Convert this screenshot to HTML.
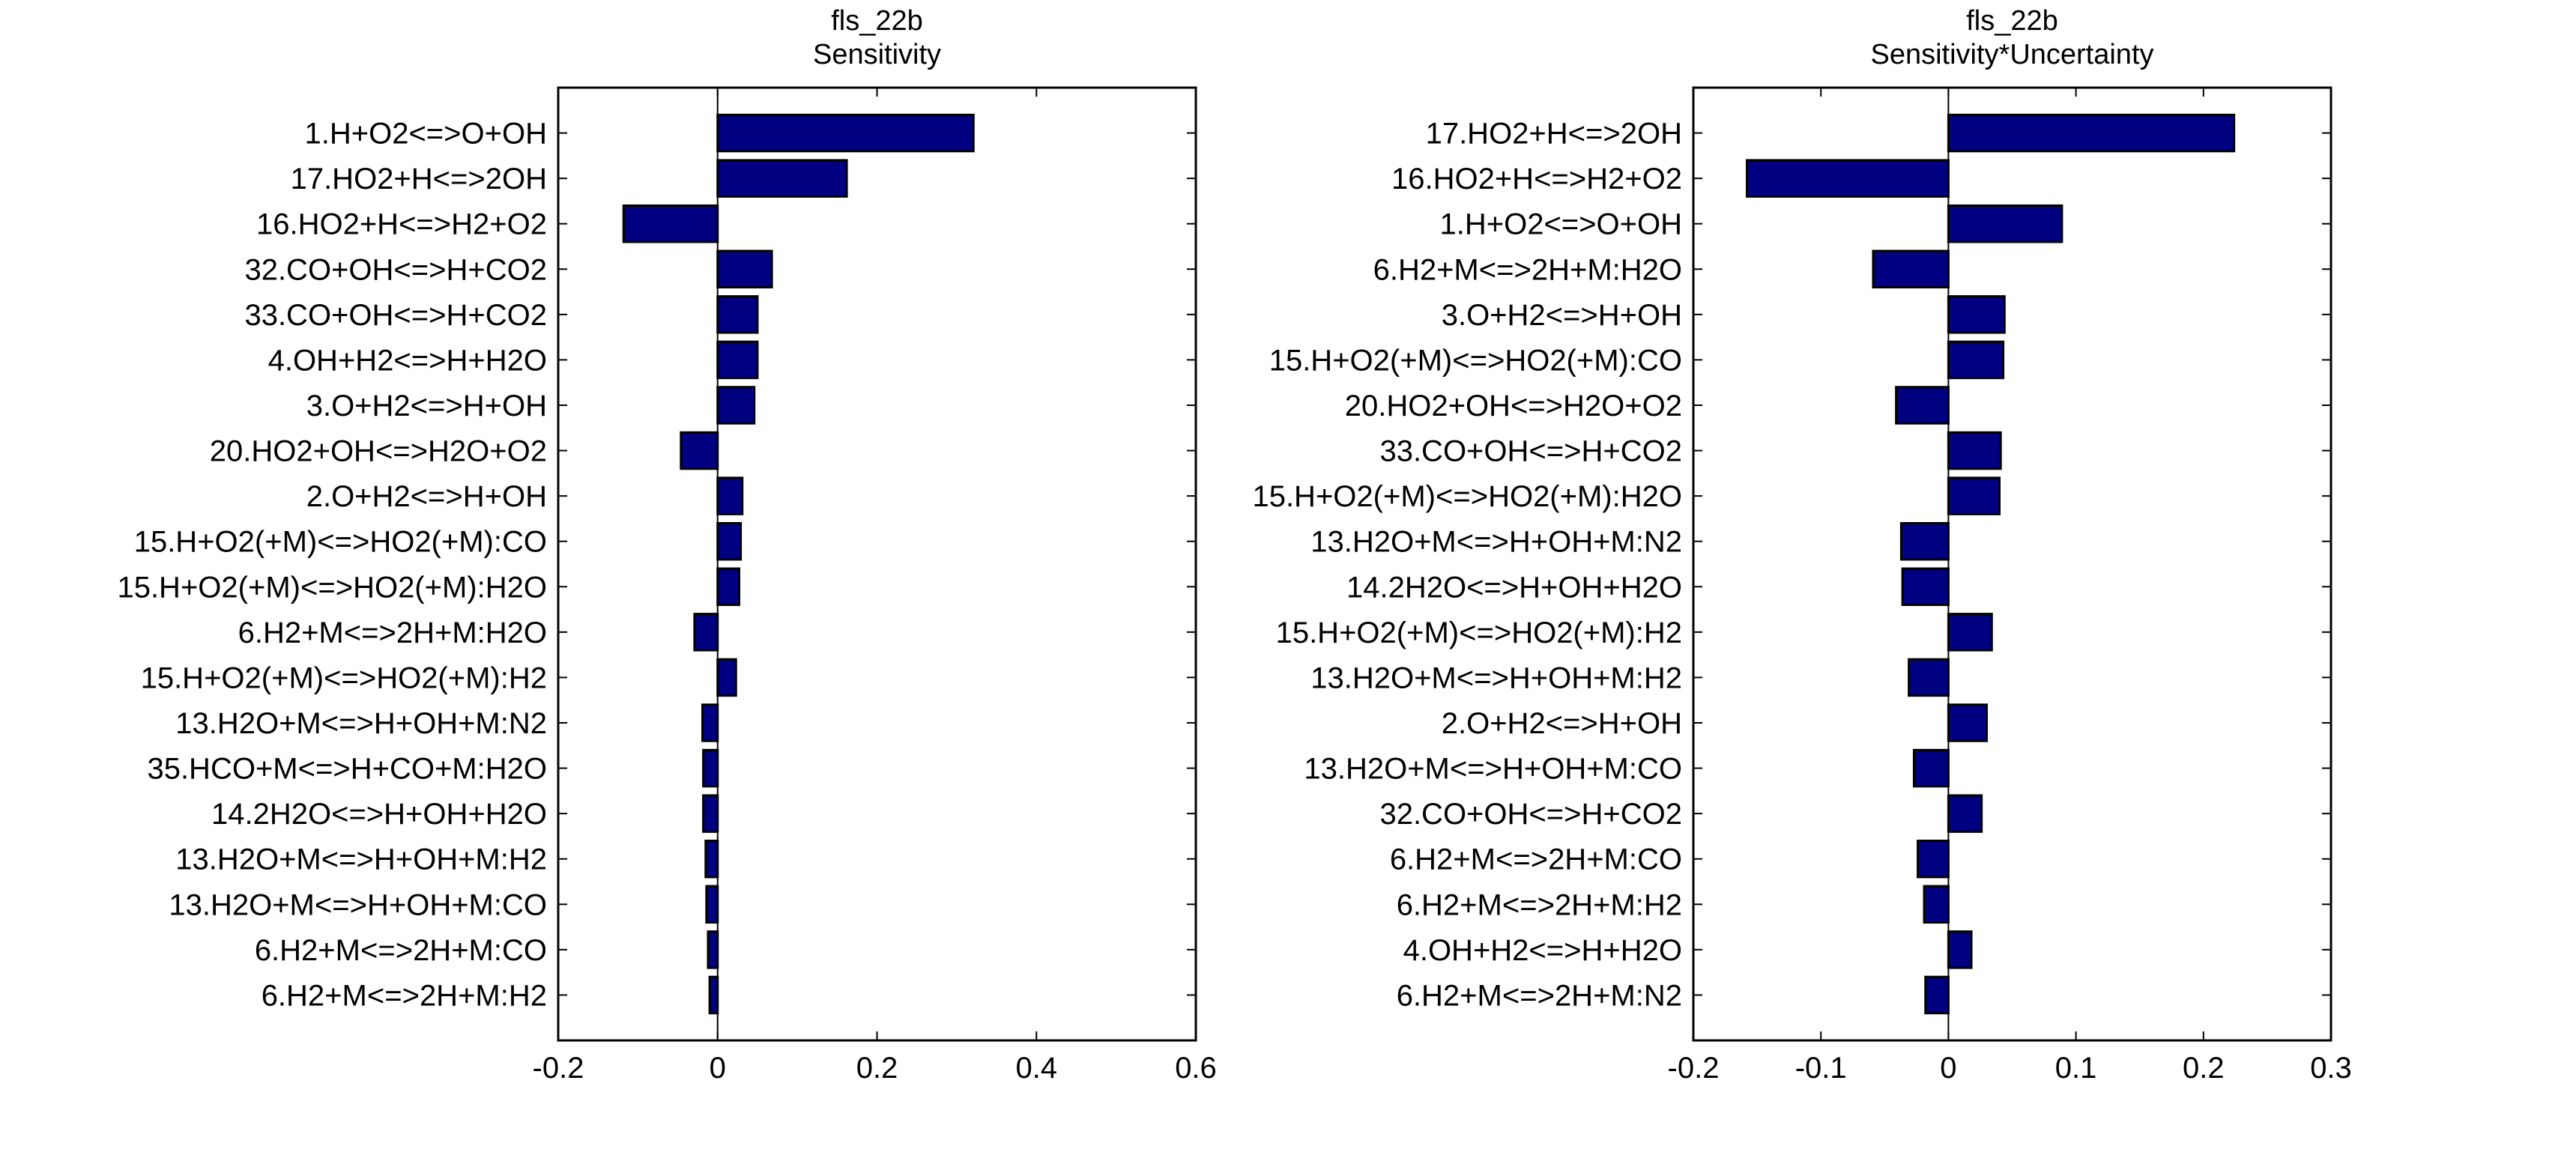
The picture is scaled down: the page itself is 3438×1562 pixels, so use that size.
<!DOCTYPE html>
<html><head><meta charset="utf-8"><style>html,body{margin:0;padding:0;background:#fff}svg{display:block}</style></head>
<body>
<svg id="s" width="3438" height="1562" xmlns="http://www.w3.org/2000/svg" font-family="Liberation Sans, Arial, sans-serif" font-size="40"></svg>
<script>
const svg=document.getElementById('s');
const NS='http://www.w3.org/2000/svg';
function el(t,a,txt){const e=document.createElementNS(NS,t);for(const k in a)e.setAttribute(k,a[k]);if(txt!==undefined)e.textContent=txt;svg.appendChild(e);return e;}
const Y1=117,Y2=1389,H=Y2-Y1,step=H/21;
function plot(x1,x2,xmin,xmax,ticks,labels,vals,t1,t2){
  const W=x2-x1, X=v=>x1+(v-xmin)/(xmax-xmin)*W, x0=X(0);
  el('rect',{x:x1,y:Y1,width:W,height:H,fill:'#fff'});
  vals.forEach((v,i)=>{const yc=Y1+(i+1)*step, bh=step*0.8;
    const a=Math.min(x0,X(v)), b=Math.max(x0,X(v));
    el('rect',{x:a,y:yc-bh/2,width:b-a,height:bh,fill:'#000080',stroke:'#000','stroke-width':3});
    el('line',{x1:x1,y1:yc,x2:x1+12,y2:yc,stroke:'#000','stroke-width':2});
    el('line',{x1:x2,y1:yc,x2:x2-12,y2:yc,stroke:'#000','stroke-width':2});
    el('text',{x:x1-15,y:yc+14,'text-anchor':'end'},labels[i]);
  });
  el('line',{x1:x0,y1:Y1,x2:x0,y2:Y2,stroke:'#000','stroke-width':2});
  ticks.forEach(t=>{const x=X(t);
    el('line',{x1:x,y1:Y2,x2:x,y2:Y2-12,stroke:'#000','stroke-width':2});
    el('line',{x1:x,y1:Y1,x2:x,y2:Y1+12,stroke:'#000','stroke-width':2});
    el('text',{x:x,y:1439,'text-anchor':'middle'},String(t));
  });
  el('rect',{x:x1,y:Y1,width:W,height:H,fill:'none',stroke:'#000','stroke-width':3});
  const cx=(x1+x2)/2;
  el('text',{x:cx,y:40,'text-anchor':'middle','font-size':38},t1);
  el('text',{x:cx,y:85,'text-anchor':'middle','font-size':38},t2);
}
plot(745,1596,-0.2,0.6,[-0.2,0,0.2,0.4,0.6],
["1.H+O2<=>O+OH","17.HO2+H<=>2OH","16.HO2+H<=>H2+O2","32.CO+OH<=>H+CO2","33.CO+OH<=>H+CO2","4.OH+H2<=>H+H2O","3.O+H2<=>H+OH","20.HO2+OH<=>H2O+O2","2.O+H2<=>H+OH","15.H+O2(+M)<=>HO2(+M):CO","15.H+O2(+M)<=>HO2(+M):H2O","6.H2+M<=>2H+M:H2O","15.H+O2(+M)<=>HO2(+M):H2","13.H2O+M<=>H+OH+M:N2","35.HCO+M<=>H+CO+M:H2O","14.2H2O<=>H+OH+H2O","13.H2O+M<=>H+OH+M:H2","13.H2O+M<=>H+OH+M:CO","6.H2+M<=>2H+M:CO","6.H2+M<=>2H+M:H2"],
[0.321,0.162,-0.118,0.068,0.05,0.05,0.046,-0.046,0.031,0.029,0.027,-0.029,0.023,-0.019,-0.018,-0.018,-0.015,-0.014,-0.012,-0.010],
"fls_22b","Sensitivity");
plot(2260,3111,-0.2,0.3,[-0.2,-0.1,0,0.1,0.2,0.3],
["17.HO2+H<=>2OH","16.HO2+H<=>H2+O2","1.H+O2<=>O+OH","6.H2+M<=>2H+M:H2O","3.O+H2<=>H+OH","15.H+O2(+M)<=>HO2(+M):CO","20.HO2+OH<=>H2O+O2","33.CO+OH<=>H+CO2","15.H+O2(+M)<=>HO2(+M):H2O","13.H2O+M<=>H+OH+M:N2","14.2H2O<=>H+OH+H2O","15.H+O2(+M)<=>HO2(+M):H2","13.H2O+M<=>H+OH+M:H2","2.O+H2<=>H+OH","13.H2O+M<=>H+OH+M:CO","32.CO+OH<=>H+CO2","6.H2+M<=>2H+M:CO","6.H2+M<=>2H+M:H2","4.OH+H2<=>H+H2O","6.H2+M<=>2H+M:N2"],
[0.224,-0.158,0.089,-0.059,0.044,0.043,-0.041,0.041,0.040,-0.037,-0.036,0.034,-0.031,0.030,-0.027,0.026,-0.024,-0.019,0.018,-0.018],
"fls_22b","Sensitivity*Uncertainty");
</script>
</body></html>
